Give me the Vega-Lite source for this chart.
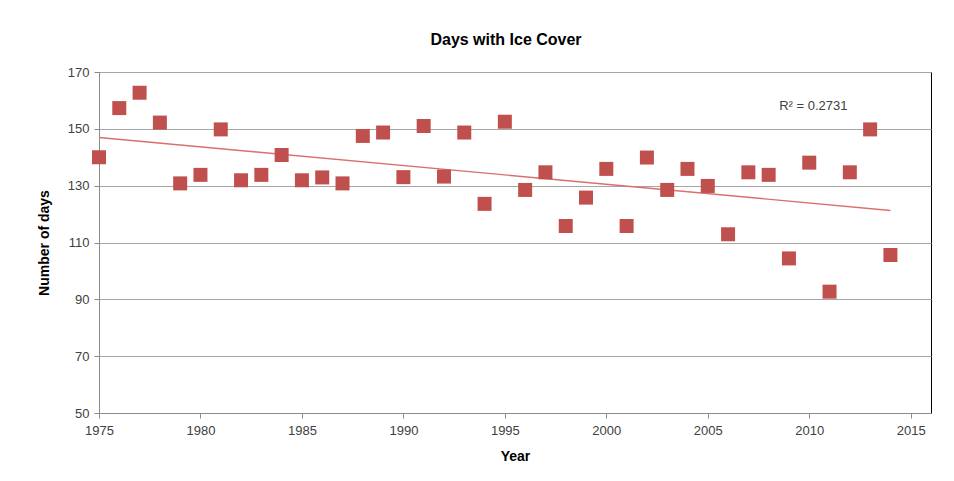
{
  "$schema": "https://vega.github.io/schema/vega-lite/v6.json",
  "width": 832,
  "height": 341,
  "autosize": {"type": "none"},
  "padding": {"left": 99, "top": 72, "right": 23, "bottom": 68},
  "background": "white",
  "title": {"text": "Days with Ice Cover", "font": "Liberation Sans", "fontSize": 16, "fontWeight": "bold", "color": "#000000", "offset": 18, "dx": -9},
  "config": {
    "view": {"stroke": "#000000", "strokeWidth": 1},
    "axis": {"labelFont": "Liberation Sans", "labelFontSize": 13, "labelColor": "#404040", "titleFont": "Liberation Sans", "titleFontSize": 14, "titleFontWeight": "bold", "titleColor": "#000000", "domainColor": "#8c8c8c", "tickColor": "#8c8c8c", "gridColor": "#a6a6a6", "gridOpacity": 1}
  },
  "datasets": {
    "ice": [
      {"year": 1975, "days": 140},
      {"year": 1976, "days": 157.3},
      {"year": 1977, "days": 162.7},
      {"year": 1978, "days": 152.2},
      {"year": 1979, "days": 130.8},
      {"year": 1980, "days": 133.8},
      {"year": 1981, "days": 149.8},
      {"year": 1982, "days": 131.9},
      {"year": 1983, "days": 133.8},
      {"year": 1984, "days": 140.8},
      {"year": 1985, "days": 131.9},
      {"year": 1986, "days": 132.9},
      {"year": 1987, "days": 130.8},
      {"year": 1988, "days": 147.5},
      {"year": 1989, "days": 148.7},
      {"year": 1990, "days": 133},
      {"year": 1991, "days": 151},
      {"year": 1992, "days": 133.2},
      {"year": 1993, "days": 148.7},
      {"year": 1994, "days": 123.6},
      {"year": 1995, "days": 152.5},
      {"year": 1996, "days": 128.5},
      {"year": 1997, "days": 134.7},
      {"year": 1998, "days": 115.8},
      {"year": 1999, "days": 125.8},
      {"year": 2000, "days": 135.9},
      {"year": 2001, "days": 115.8},
      {"year": 2002, "days": 139.9},
      {"year": 2003, "days": 128.5},
      {"year": 2004, "days": 135.9},
      {"year": 2005, "days": 129.9},
      {"year": 2006, "days": 112.9},
      {"year": 2007, "days": 134.7},
      {"year": 2008, "days": 133.8},
      {"year": 2009, "days": 104.4},
      {"year": 2010, "days": 138.1},
      {"year": 2011, "days": 92.7},
      {"year": 2012, "days": 134.7},
      {"year": 2013, "days": 149.8},
      {"year": 2014, "days": 105.6}
    ],
    "note": [{"label": "R² = 0.2731", "year": 2010.2, "days": 158}]
  },
  "layer": [
    {
      "data": {"name": "ice"},
      "transform": [{"regression": "days", "on": "year", "extent": [1975, 2014]}],
      "mark": {"type": "line", "color": "#D9706D", "strokeWidth": 1.4},
      "encoding": {
        "x": {"field": "year", "type": "quantitative", "scale": {"domain": [1975, 2016], "nice": false, "zero": false},
          "axis": {"title": "Year", "values": [1975, 1980, 1985, 1990, 1995, 2000, 2005, 2010, 2015], "format": "d", "grid": false, "tickSize": 5, "labelPadding": 6, "titlePadding": 12, "labelFlush": false}},
        "y": {"field": "days", "type": "quantitative", "scale": {"domain": [50, 170], "nice": false, "zero": false},
          "axis": {"title": "Number of days", "values": [50, 70, 90, 110, 130, 150, 170], "grid": true, "tickSize": 5, "labelPadding": 5, "titlePadding": 16}}
      }
    },
    {
      "data": {"name": "ice"},
      "mark": {"type": "point", "shape": "square", "filled": true, "size": 196, "color": "#C0504D", "opacity": 1},
      "encoding": {
        "x": {"field": "year", "type": "quantitative"},
        "y": {"field": "days", "type": "quantitative"}
      }
    },
    {
      "data": {"name": "note"},
      "mark": {"type": "text", "font": "Liberation Sans", "fontSize": 13, "color": "#404040", "align": "center", "baseline": "middle"},
      "encoding": {
        "x": {"field": "year", "type": "quantitative"},
        "y": {"field": "days", "type": "quantitative"},
        "text": {"field": "label"}
      }
    }
  ]
}
